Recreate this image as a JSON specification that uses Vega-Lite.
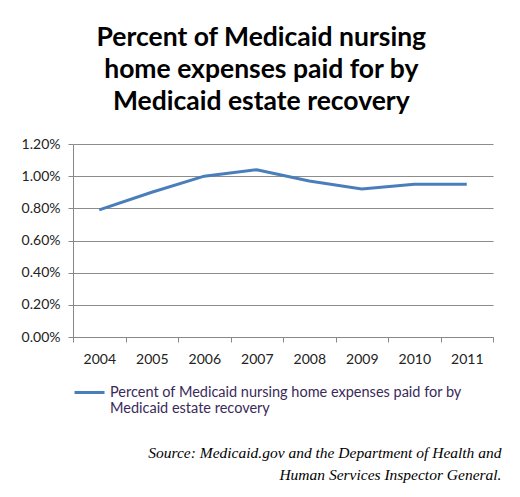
{
  "$schema": "https://vega.github.io/schema/vega-lite/v6.json",
  "background": "white",
  "padding": {"left": 21, "right": 10, "top": 24, "bottom": 5},
  "title": {
    "text": ["Percent of Medicaid nursing", "home expenses paid for by", "Medicaid estate recovery"],
    "font": "Lato",
    "fontSize": 26.5,
    "fontWeight": "bold",
    "color": "#000000",
    "lineHeight": 32,
    "anchor": "middle",
    "offset": 22
  },
  "data": {
    "values": [
      {"year": "2004", "pct": 0.0079, "series": "Percent of Medicaid nursing home expenses paid for by Medicaid estate recovery"},
      {"year": "2005", "pct": 0.0090, "series": "Percent of Medicaid nursing home expenses paid for by Medicaid estate recovery"},
      {"year": "2006", "pct": 0.0100, "series": "Percent of Medicaid nursing home expenses paid for by Medicaid estate recovery"},
      {"year": "2007", "pct": 0.0104, "series": "Percent of Medicaid nursing home expenses paid for by Medicaid estate recovery"},
      {"year": "2008", "pct": 0.0097, "series": "Percent of Medicaid nursing home expenses paid for by Medicaid estate recovery"},
      {"year": "2009", "pct": 0.0092, "series": "Percent of Medicaid nursing home expenses paid for by Medicaid estate recovery"},
      {"year": "2010", "pct": 0.0095, "series": "Percent of Medicaid nursing home expenses paid for by Medicaid estate recovery"},
      {"year": "2011", "pct": 0.0095, "series": "Percent of Medicaid nursing home expenses paid for by Medicaid estate recovery"}
    ]
  },
  "resolve": {"scale": {"color": "independent"}, "legend": {"color": "independent"}},
  "vconcat": [
    {
      "title": {
        "text": ["Source: Medicaid.gov and the Department of Health and", "Human Services Inspector General."],
        "orient": "bottom",
        "anchor": "end",
        "align": "right",
        "dx": 8,
        "font": "Liberation Serif",
        "fontSize": 15.5,
        "fontStyle": "italic",
        "fontWeight": "normal",
        "color": "#000000",
        "lineHeight": 22,
        "offset": 30
      },
      "resolve": {"scale": {"color": "independent"}, "legend": {"color": "independent"}},
      "vconcat": [
        {
          "width": 420,
          "height": 193,
          "mark": {"type": "line", "strokeWidth": 3},
          "encoding": {
            "x": {
              "field": "year",
              "type": "ordinal",
              "bandPosition": 0.5,
              "scale": {"type": "band", "paddingInner": 0, "paddingOuter": 0},
              "axis": {
                "title": null,
                "labelAngle": 0,
                "tickBand": "extent",
                "grid": false,
                "domainColor": "#888888",
                "tickColor": "#888888",
                "tickSize": 5,
                "labelFont": "Lato",
                "labelFontSize": 14,
                "labelColor": "#222222",
                "labelPadding": 10
              }
            },
            "y": {
              "field": "pct",
              "type": "quantitative",
              "scale": {"domain": [0, 0.012]},
              "axis": {
                "title": null,
                "values": [0, 0.002, 0.004, 0.006, 0.008, 0.01, 0.012],
                "format": ".2%",
                "grid": true,
                "gridColor": "#8c8c8c",
                "gridOpacity": 1,
                "domainColor": "#888888",
                "tickColor": "#888888",
                "tickSize": 5,
                "labelFont": "Lato",
                "labelFontSize": 14,
                "labelColor": "#222222",
                "labelPadding": 8
              }
            },
            "color": {
              "field": "series",
              "type": "nominal",
              "scale": {"range": ["#4a7ebb"]},
              "legend": {
                "title": null,
                "orient": "bottom",
                "symbolType": "stroke",
                "symbolSize": 900,
                "symbolStrokeWidth": 3,
                "labelFont": "Lato",
                "labelFontSize": 14.5,
                "labelLineHeight": 18,
                "labelColor": "#3a2a5a",
                "labelLimit": 500,
                "labelExpr": "['Percent of Medicaid nursing home expenses paid for by', 'Medicaid estate recovery']",
                "offset": 10
              }
            }
          }
        }
      ]
    }
  ],
  "config": {
    "view": {"stroke": null},
    "concat": {"spacing": 0}
  }
}
